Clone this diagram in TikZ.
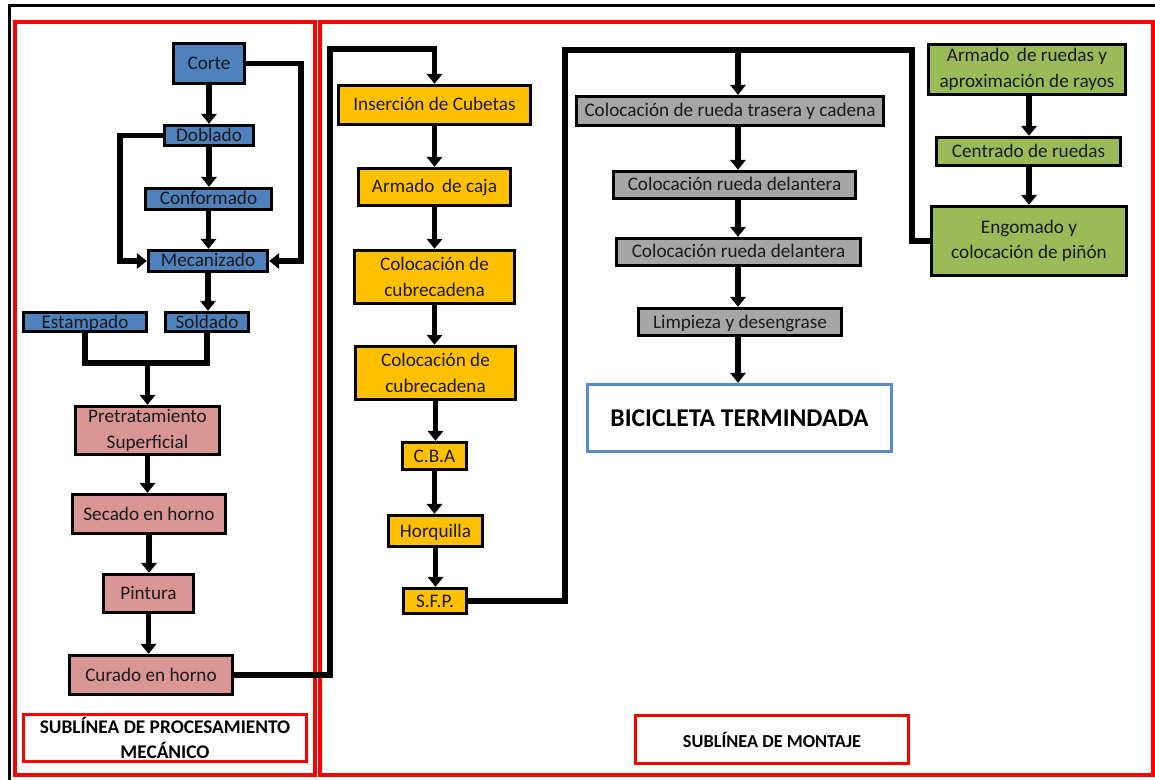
\documentclass[tikz,border=0pt]{standalone}
\usepackage{fontspec}
\setmainfont{Carlito}
\usetikzlibrary{arrows.meta,calc}
\definecolor{bblue}{HTML}{4F81BD}
\definecolor{bpink}{HTML}{D99694}
\definecolor{borange}{HTML}{FFC000}
\definecolor{bgray}{HTML}{A6A6A6}
\definecolor{bgreen}{HTML}{9BBB59}
\definecolor{bred}{HTML}{FF0000}
\definecolor{bframe}{HTML}{5B8BC9}
\definecolor{txt}{HTML}{1A1A1A}
\begin{document}
\begin{tikzpicture}[x=0.75pt,y=-0.75pt,
  box/.style={draw=black, line width=2.25pt, inner sep=0pt, align=center,
    font=\fontsize{14.4}{19}\selectfont, text=txt},
  single/.style={text height=10pt, text depth=1pt},
  bluebox/.style={box, single, fill=bblue},
  pinkbox/.style={box, fill=bpink},
  orangebox/.style={box, fill=borange},
  graybox/.style={box, single, fill=bgray},
  greenbox/.style={box, fill=bgreen},
  labelbox/.style={draw=bred, line width=2.5pt, inner sep=0pt, align=center,
    text=black},
  conn/.style={line width=4.4pt, line join=miter, draw=black},
  arr/.style={conn, -{Triangle[width=11.5pt,length=7.5pt]}},
  frame/.style={line width=2.25pt, draw=black},
  redframe/.style={line width=2.5pt, draw=bred}
]
\useasboundingbox (0,0) rectangle (1155,780);
% frames
\draw[frame] (9,780) -- (9,6) -- (1155,6);
\draw[redframe] (15,22) rectangle (315,775);
\draw[redframe] (320,22) rectangle (1153,775);

% left column
\node[bluebox, minimum width=53.5pt, minimum height=30.25pt] (corte) at (209,63.5) {Corte};
\node[bluebox, minimum width=67pt, minimum height=15.25pt] (doblado) at (209,135.5) {Doblado};
\node[bluebox, minimum width=94.75pt, minimum height=16pt] (conformado) at (208.5,199) {Conformado};
\node[bluebox, minimum width=89.5pt, minimum height=16pt] (mecanizado) at (208,261) {Mecanizado};
\node[bluebox, minimum width=92.5pt, minimum height=14.5pt] (estampado) at (85,322) {Estampado};
\node[bluebox, minimum width=62.5pt, minimum height=14.5pt] (soldado) at (207,322) {Soldado};
\node[pinkbox, minimum width=108.25pt, minimum height=36.25pt] (pretrat) at (147.5,430.5) {Pretratamiento\\Superficial};
\node[pinkbox, single, minimum width=115pt, minimum height=29.5pt] (secado) at (149,514) {Secado en horno};
\node[pinkbox, single, minimum width=67.75pt, minimum height=28.75pt] (pintura) at (148.5,593.5) {Pintura};
\node[pinkbox, single, minimum width=122.5pt, minimum height=29.5pt] (curado) at (151,675) {Curado en horno};

% middle column
\node[orangebox, single, minimum width=144.25pt, minimum height=29.5pt] (insercion) at (434.5,105) {Inserción de Cubetas};
\node[orangebox, single, minimum width=114.25pt, minimum height=28pt] (armado) at (434.5,187) {Armado\, de caja};
\node[orangebox, minimum width=120.25pt, minimum height=40pt] (cubreA) at (434.5,277) {Colocación de\\cubrecadena};
\node[orangebox, minimum width=120.25pt, minimum height=40pt] (cubreB) at (435.5,373) {Colocación de\\cubrecadena};
\node[orangebox, single, minimum width=48.25pt, minimum height=20.5pt] (cba) at (434.5,456) {C.B.A};
\node[orangebox, single, minimum width=70.75pt, minimum height=23.5pt] (horq) at (435.5,531) {Horquilla};
\node[orangebox, single, minimum width=47.5pt, minimum height=19pt] (sfp) at (435,601) {S.F.P.};

% gray column
\node[graybox, minimum width=230.5pt, minimum height=22pt] (rtras) at (730,111) {Colocación de rueda trasera y cadena};
\node[graybox, minimum width=181.75pt, minimum height=20.5pt] (rdelA) at (734.5,185) {Colocación rueda delantera};
\node[graybox, minimum width=183.25pt, minimum height=20.5pt] (rdelB) at (738.5,252) {Colocación rueda delantera};
\node[graybox, minimum width=152.5pt, minimum height=20.5pt] (limp) at (740,322) {Limpieza y desengrase};
\node[draw=bframe, line width=2.25pt, inner sep=0pt, minimum width=228.25pt, minimum height=50.5pt,
  font=\fontsize{19.2}{23}\selectfont\bfseries, text=black] (bici) at (739.5,418) {BICICLETA TERMINDADA};

% green column
\node[greenbox, minimum width=148pt, minimum height=37.75pt] (armr) at (1027,69.5) {Armado\, de ruedas y\\aproximación de rayos};
\node[greenbox, single, minimum width=138.25pt, minimum height=21.25pt] (centr) at (1028.5,151.5) {Centrado de ruedas};
\node[greenbox, minimum width=146.5pt, minimum height=52pt] (engo) at (1029,241) {Engomado y\\colocación de piñón};

% labels
\node[labelbox, font=\fontsize{14.5}{19}\selectfont\bfseries, minimum width=212.5pt, minimum height=35.5pt] (labA) at (165,738) {SUBLÍNEA DE PROCESAMIENTO\\MECÁNICO};
\node[labelbox, font=\fontsize{13.7}{18}\selectfont\bfseries, minimum width=205pt, minimum height=36.25pt] (labB) at (772,739.5) {SUBLÍNEA DE MONTAJE};

% helper coordinates
\coordinate (xr) at (301,0);
\coordinate (xl) at (120,0);
\coordinate (j1) at (147.5,363);
\coordinate (c3) at (330,49);
\coordinate (c4) at (565,50);
\coordinate (c5) at (912,50);
\coordinate (c6) at (738,50);
\coordinate (gx) at (738,0);
\coordinate (grx) at (1029,0);

% left connectors
\draw[arr] (corte.south) -- (corte.south |- doblado.north);
\draw[arr] (doblado.south) -- (doblado.south |- conformado.north);
\draw[arr] (conformado.south) -- (conformado.south |- mecanizado.north);
\draw[arr] (corte.east) -- (corte.east -| xr) |- (mecanizado.east);
\draw[arr] (doblado.west) -- (doblado.west -| xl) |- (mecanizado.west);
\draw[arr] (mecanizado.south) -- (mecanizado.south |- soldado.north);
\draw[conn] (estampado.south) -- (estampado.south |- j1) -- (soldado.south |- j1) -- (soldado.south);
\draw[arr] (j1) -- (pretrat.north);
\draw[arr] (pretrat.south) -- (pretrat.south |- secado.north);
\draw[arr] (secado.south) -- (secado.south |- pintura.north);
\draw[arr] (pintura.south) -- (pintura.south |- curado.north);
\draw[arr] (curado.east) -| (c3) -| (insercion.north);

% middle connectors
\draw[arr] (insercion.south) -- (insercion.south |- armado.north);
\draw[arr] (armado.south) -- (armado.south |- cubreA.north);
\draw[arr] (cubreA.south) -- (cubreA.south |- cubreB.north);
\draw[arr] (cubreB.south) -- (cubreB.south |- cba.north);
\draw[arr] (cba.south) -- (cba.south |- horq.north);
\draw[arr] (horq.south) -- (horq.south |- sfp.north);
\draw[conn] (sfp.east) -| (c4) -- (c5) |- (engo.west);
\draw[arr] (c6) -- (c6 |- rtras.north);

% gray connectors
\draw[arr] (gx |- rtras.south) -- (gx |- rdelA.north);
\draw[arr] (gx |- rdelA.south) -- (gx |- rdelB.north);
\draw[arr] (gx |- rdelB.south) -- (gx |- limp.north);
\draw[arr] (gx |- limp.south) -- (gx |- bici.north);

% green connectors
\draw[arr] (grx |- armr.south) -- (grx |- centr.north);
\draw[arr] (grx |- centr.south) -- (grx |- engo.north);
\end{tikzpicture}
\end{document}
